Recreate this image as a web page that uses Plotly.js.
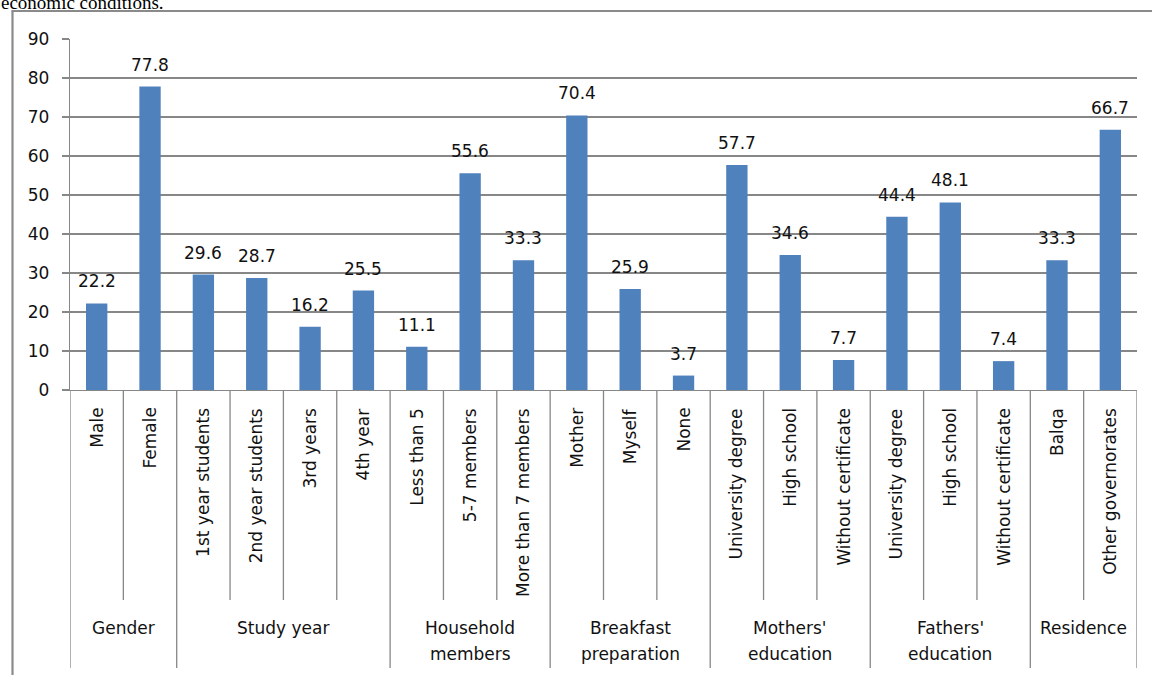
<!DOCTYPE html>
<html>
<head>
<meta charset="utf-8">
<script src="https://cdn.plot.ly/plotly-3.0.1.min.js"></script>
<style>
  html, body { margin: 0; padding: 0; background: #ffffff; }
  #chart { width: 1152px; height: 675px; }
</style>
</head>
<body>
<div id="chart"></div>
<script>
// Sample profile: share (%) of respondents in each category
const groups = ["Gender", "Study year", "Household<br>members", "Breakfast<br>preparation",
                "Mothers'<br>education", "Fathers'<br>education", "Residence"];
const groupSizes = [2, 4, 3, 3, 3, 3, 2];
const categories = ["Male", "Female",
                    "1st year students", "2nd year students", "3rd years", "4th year",
                    "Less than 5", "5-7 members", "More than 7 members",
                    "Mother", "Myself", "None",
                    "University degree", "High school", "Without certificate",
                    "University degree", "High school", "Without certificate",
                    "Balqa", "Other governorates"];
const values = [22.2, 77.8,
                29.6, 28.7, 16.2, 25.5,
                11.1, 55.6, 33.3,
                70.4, 25.9, 3.7,
                57.7, 34.6, 7.7,
                44.4, 48.1, 7.4,
                33.3, 66.7];
const yTicks = [0, 10, 20, 30, 40, 50, 60, 70, 80, 90];
const caption = "economic conditions.";

// Page geometry (pixels)
const W = 1152, H = 675;
const M = { l: 70, r: 15, t: 39, b: 285 };
const plotH = H - M.t - M.b;
const plotW = W - M.l - M.r;
const py = px => (H - M.b - px) / plotH;      // pixel row -> paper y
const pxX = px => (px - M.l) / plotW;          // pixel column -> paper x

const FONT = "DejaVu Sans";
const TXT = "#111111";
const GRID = "#878787";
const idx = categories.map((_, i) => i);

const annotations = [];
const shapes = [];

// value labels above the bars
values.forEach((v, i) => {
  annotations.push({
    x: i, y: v, xref: "x", yref: "y", text: v.toFixed(1), showarrow: false,
    xanchor: "center", yanchor: "bottom", yshift: 10,
    font: { family: FONT, size: 17, color: TXT }
  });
});

// rotated category labels under each bar
categories.forEach((c, i) => {
  annotations.push({
    x: i, y: py(406), xref: "x", yref: "paper", text: c, showarrow: false,
    textangle: -90, xanchor: "center", yanchor: "top",
    font: { family: FONT, size: 17, color: TXT }
  });
});

// separators between categories, longer ones between groups, and group names
let start = 0;
const groupEdges = new Set([0]);
groupSizes.forEach(n => { start += n; groupEdges.add(start); });
for (let k = 0; k <= categories.length; k++) {
  const isGroup = groupEdges.has(k);
  shapes.push({
    type: "line", xref: "x", yref: "paper",
    x0: k - 0.5, x1: k - 0.5, y0: 0, y1: py(isGroup ? 668 : 600),
    line: { color: GRID, width: 1.3 }
  });
}
start = 0;
groups.forEach((g, gi) => {
  const n = groupSizes[gi];
  const center = start + (n - 1) / 2;
  g.split("<br>").forEach((line, li) => {
    annotations.push({
      x: center, y: py(628 + li * 26), xref: "x", yref: "paper", text: line, showarrow: false,
      xanchor: "center", yanchor: "middle",
      font: { family: FONT, size: 17, color: TXT }
    });
  });
  start += n;
});

// outer frame of the figure box (left and top edges)
shapes.push({ type: "line", xref: "paper", yref: "paper",
  x0: pxX(12.5), x1: pxX(12.5), y0: py(11), y1: py(H + 5), line: { color: "#8a8a8a", width: 2.2 } });
shapes.push({ type: "line", xref: "paper", yref: "paper",
  x0: pxX(11.5), x1: pxX(W + 5), y0: py(11), y1: py(11), line: { color: "#8a8a8a", width: 2.2 } });

// text line running above the figure box
annotations.push({
  x: pxX(-1), y: py(15), xref: "paper", yref: "paper", text: caption, showarrow: false,
  xanchor: "left", yanchor: "bottom",
  font: { family: "Liberation Serif", size: 19, color: "#000000" }
});

const trace = {
  type: "bar", x: idx, y: values, width: 0.4,
  marker: { color: "#4F81BD" }, hoverinfo: "skip"
};

const layout = {
  width: W, height: H,
  margin: M,
  paper_bgcolor: "#ffffff", plot_bgcolor: "#ffffff",
  showlegend: false,
  font: { family: FONT, size: 17, color: TXT },
  xaxis: {
    range: [-0.5, categories.length - 0.5], showticklabels: false, ticks: "",
    showgrid: false, zeroline: false, showline: true, linecolor: GRID, linewidth: 1.3,
    fixedrange: true
  },
  yaxis: {
    range: [0, 90], tickvals: yTicks, ticktext: yTicks.map(String),
    showgrid: true, gridcolor: GRID, gridwidth: 1.3, zeroline: false,
    showline: true, linecolor: GRID, linewidth: 1.3,
    ticks: "outside", ticklen: 7, tickcolor: GRID, tickwidth: 1.3,
    ticklabelstandoff: 9,
    tickfont: { family: FONT, size: 17, color: TXT }, fixedrange: true
  },
  annotations: annotations,
  shapes: shapes
};

Plotly.newPlot("chart", [trace], layout, { staticPlot: true, displayModeBar: false });
</script>
</body>
</html>
